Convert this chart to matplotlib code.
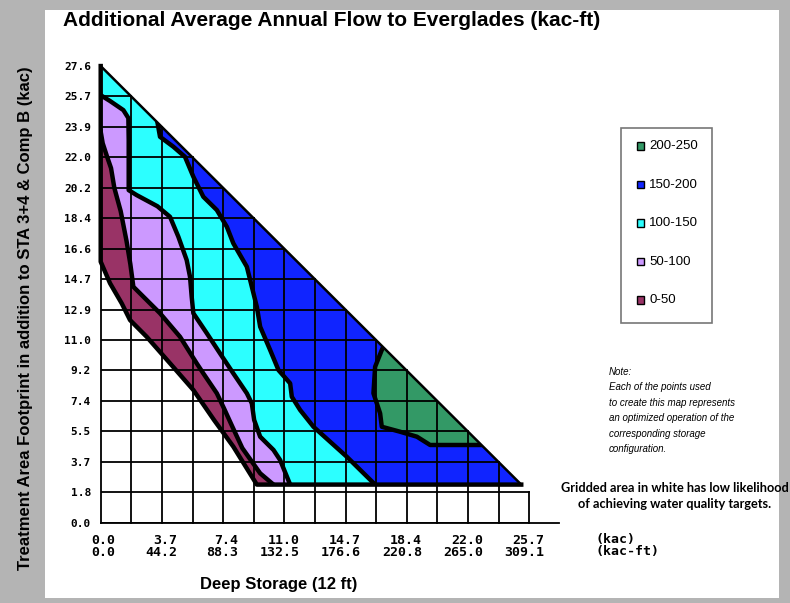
import matplotlib
matplotlib.use("Agg")
import matplotlib.pyplot as plt
import matplotlib.transforms as mtransforms
from matplotlib.patches import Polygon, Rectangle

# grid step of the map (kac)
step = 1.8375

x_kac = ["0.0", "3.7", "7.4", "11.0", "14.7", "18.4", "22.0", "25.7"]
x_kacft = ["0.0", "44.2", "88.3", "132.5", "176.6", "220.8", "265.0", "309.1"]
y_labels = ["0.0", "1.8", "3.7", "5.5", "7.4", "9.2", "11.0", "12.9",
            "14.7", "16.6", "18.4", "20.2", "22.0", "23.9", "25.7", "27.6"]

# edge of the mapped area (deep storage kac, treatment area kac)
apex = (0.0, 27.56)
corner = (25.24, 2.30)
lower_edge = [(9.37, 2.30), (7.96, 4.59), (6.80, 6.20), (5.56, 8.01), (4.16, 9.62),
              (2.76, 11.22), (1.76, 12.23), (1.26, 13.24), (0.56, 14.45), (0.0, 15.75)]

# contour lines between the flow classes
line_50 = [(0.0, 23.6), (0.12, 22.9), (0.38, 22.1), (0.62, 21.4), (0.82, 20.2),
           (1.2, 18.8), (1.55, 17.0), (1.78, 15.6), (1.96, 14.24), (2.36, 13.84),
           (3.56, 12.64), (4.76, 11.22), (5.76, 9.62), (6.16, 9.01), (6.97, 7.81),
           (7.4, 6.9), (7.9, 5.8), (8.5, 4.5), (9.57, 2.98), (10.37, 2.30)]
line_100 = [(0.0, 25.80), (0.56, 25.45), (1.36, 24.90), (1.66, 24.42), (1.68, 23.1),
            (1.68, 20.07), (2.16, 19.77), (3.4, 19.1), (4.16, 18.46), (4.66, 17.26),
            (5.16, 15.85), (5.36, 14.84), (5.46, 13.64), (5.56, 12.64), (6.37, 11.43),
            (7.16, 10.22), (7.96, 9.01), (8.77, 7.81), (9.07, 7.20), (9.21, 6.20),
            (9.57, 5.19), (10.37, 4.39), (10.77, 3.78), (11.37, 2.30)]
line_150 = [(2.9, 25.5), (3.36, 24.42), (3.56, 23.29), (4.36, 22.69), (5.06, 22.08),
            (5.56, 20.88), (6.16, 19.67), (6.97, 18.87), (7.57, 17.86), (7.96, 16.86),
            (8.77, 15.45), (9.07, 14.24), (9.37, 13.03), (9.57, 11.83), (10.17, 10.42),
            (10.67, 9.21), (11.37, 8.41), (11.47, 7.60), (11.97, 6.80), (12.77, 5.79),
            (14.77, 3.98), (16.47, 2.30)]
zone_200 = [(17.2, 11.2), (16.87, 10.42), (16.47, 9.41), (16.37, 7.81), (16.77, 6.60),
            (16.87, 5.79), (17.97, 5.49), (18.98, 5.19), (19.77, 4.69), (23.4, 4.69)]

classes = ["200-250", "150-200", "100-150", "50-100", "0-50"]
colors = ["#339966", "#1024FF", "#2CFFFF", "#CC99FF", "#993366"]

fig = plt.figure(figsize=(7.9, 6.03), dpi=100, facecolor="#b4b4b4")
fig.patches.append(Rectangle((45 / 790, 5 / 603), 734 / 790, 588 / 603,
                             transform=fig.transFigure, facecolor="white",
                             edgecolor="none", zorder=-1))

ax = fig.add_axes([100.7 / 790, 80.3 / 603, 458.2 / 790, 456.7 / 603])
ax.set_xlim(0, 27.5)
ax.set_ylim(0, 27.56)
ax.patch.set_alpha(0)
for s in ["top", "right", "left"]:
    ax.spines[s].set_visible(False)
ax.spines["bottom"].set_linewidth(1.3)


def hyp_y(x):
    return apex[1] - x * (apex[1] - corner[1]) / corner[0]


def hyp_x(y):
    return (apex[1] - y) * corner[0] / (apex[1] - corner[1])


# outer region, filled with the lowest class
outer = [apex, corner] + lower_edge
region = Polygon(outer, closed=True, facecolor=colors[4], edgecolor="none", zorder=1)
ax.add_patch(region)


def right_of(line):
    pts = list(line)
    if pts[0][0] == 0.0:
        pts = [(-1, pts[0][1])] + pts
    pts = pts + [(pts[-1][0], -1), (40, -1), (40, 40)]
    if line[0][0] == 0.0:
        pts.append((-1, 40))
    return pts


for line, col in [(line_50, colors[3]), (line_100, colors[2]), (line_150, colors[1])]:
    p = Polygon(right_of(line), closed=True, facecolor=col, edgecolor="none", zorder=1)
    ax.add_patch(p)
    p.set_clip_path(region)

green = Polygon(zone_200 + [(30, 8), (24, 14)], closed=True, facecolor=colors[0],
                edgecolor="none", zorder=1)
ax.add_patch(green)
green.set_clip_path(region)

# grid inside the triangle
for i in range(15):
    x = i * step
    ax.plot([x, x], [0, max(hyp_y(x), step)], color="black", lw=1.3, zorder=2,
            clip_on=False)
for j in range(1, 16):
    y = j * step
    ax.plot([0, min(14 * step, max(hyp_x(y), 0))], [y, y], color="black", lw=1.3, zorder=2)
ax.plot([0, 14 * step], [0, 0], color="black", lw=1.3, zorder=2)

# contour lines and edges
for line in [line_50, line_100, line_150, zone_200]:
    xs, ys = zip(*line)
    ln, = ax.plot(xs, ys, color="black", lw=3.2, zorder=3, solid_joinstyle="round")
    ln.set_clip_path(region)
ax.plot([apex[0], corner[0]], [apex[1], corner[1]], color="black", lw=1.8, zorder=3)
edge = [corner] + lower_edge + [apex]
xs, ys = zip(*edge)
ax.plot(xs, ys, color="black", lw=3.2, zorder=3, solid_joinstyle="round", clip_on=False)

# ticks
ax.set_yticks([j * step for j in range(16)])
ax.set_yticklabels(y_labels, fontfamily="DejaVu Sans Mono", fontweight="bold", fontsize=8)
ax.set_xticks([i * 2 * step for i in range(8)])
ax.set_xticklabels([a + "\n" + b for a, b in zip(x_kac, x_kacft)],
                   fontfamily="DejaVu Sans Mono", fontweight="bold", fontsize=9.5,
                   ha="right", multialignment="right", linespacing=0.95)
ax.tick_params(length=0)
ax.tick_params(axis="y", pad=7)
ax.tick_params(axis="x", pad=8)
off = mtransforms.ScaledTranslation(15 / 100, 0, fig.dpi_scale_trans)
for lab in ax.get_xticklabels():
    lab.set_transform(lab.get_transform() + off)

fig.text(596 / 790, 1 - 533 / 603, "(kac)\n(kac-ft)", ha="left", va="top",
         fontfamily="DejaVu Sans Mono", fontweight="bold", fontsize=9.5, linespacing=0.95)

# titles
fig.text(63 / 790, 1 - 20 / 603, "Additional Average Annual Flow to Everglades (kac-ft)",
         ha="left", va="center", fontsize=15, fontweight="bold",
         family="Liberation Sans")
fig.text(26 / 790, 1 - 318 / 603,
         "Treatment Area Footprint in addition to STA 3+4 & Comp B (kac)",
         rotation=90, ha="center", va="center", fontsize=12, fontweight="bold",
         family="Liberation Sans")
fig.text(279 / 790, 1 - 585 / 603, "Deep Storage (12 ft)", ha="center", va="center",
         fontsize=12, fontweight="bold", family="Liberation Sans")

# legend box
fig.patches.append(Rectangle((620.7 / 790, 1 - 323.3 / 603), 91.6 / 790, 195 / 603,
                             transform=fig.transFigure, facecolor="white",
                             edgecolor="#777777", lw=1.2))
for k, (lab, col) in enumerate(zip(classes, colors)):
    yc = 146 + k * 38.5
    fig.patches.append(Rectangle((636.7 / 790, 1 - (yc + 3.8) / 603), 7.6 / 790, 7.6 / 603,
                                 transform=fig.transFigure, facecolor=col,
                                 edgecolor="black", lw=1.0))
    fig.text(649 / 790, 1 - yc / 603, lab, ha="left", va="center", fontsize=9.5,
             family="Liberation Sans")

note = ["Note:", "Each of the points used", "to create this map represents",
        "an optimized operation of the", "corresponding storage", "configuration."]
for k, t in enumerate(note):
    fig.text(609 / 790, 1 - (371.7 + k * 15.5) / 603, t, ha="left", va="center",
             fontsize=7, style="italic", family="Liberation Sans")

fig.text(675 / 790, 1 - 496 / 603,
         "Gridded area in white has low likelihood\nof achieving water quality targets.",
         ha="center", va="center", fontsize=9.2, fontweight="bold", family="Lato",
         linespacing=1.45)

fig.savefig("out.png", dpi=100, facecolor=fig.get_facecolor())
